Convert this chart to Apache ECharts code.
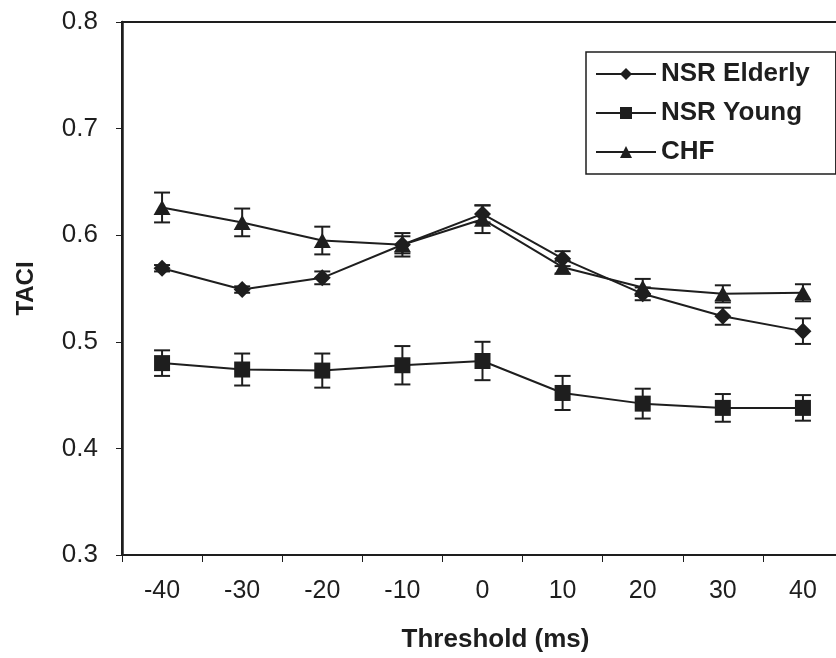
<!DOCTYPE html>
<html>
<head>
<meta charset="utf-8">
<script src="https://cdn.jsdelivr.net/npm/echarts@6/dist/echarts.min.js"></script>
<style>
  html, body { margin: 0; padding: 0; background: #fff; overflow: hidden; width: 836px; height: 658px; }
  /* the plot runs slightly past the right edge of the page */
  #chart { width: 845px; height: 658px; }
</style>
</head>
<body>
<div id="chart"></div>
<script>
// Threshold values (ms) along the x axis
const thresholds = ['-40', '-30', '-20', '-10', '0', '10', '20', '30', '40'];

// Mean TACI per group and the half-length of each error bar
const nsrElderly    = [0.569, 0.549, 0.560, 0.591, 0.620, 0.578, 0.545, 0.524, 0.510];
const nsrElderlyErr = [0.003, 0.003, 0.006, 0.008, 0.008, 0.007, 0.006, 0.008, 0.012];
const nsrYoung      = [0.480, 0.474, 0.473, 0.478, 0.482, 0.452, 0.442, 0.438, 0.438];
const nsrYoungErr   = [0.012, 0.015, 0.016, 0.018, 0.018, 0.016, 0.014, 0.013, 0.012];
const chf           = [0.626, 0.612, 0.595, 0.591, 0.615, 0.570, 0.551, 0.545, 0.546];
const chfErr        = [0.014, 0.013, 0.013, 0.011, 0.013, 0.006, 0.008, 0.008, 0.008];

const yTicks = [0.3, 0.4, 0.5, 0.6, 0.7, 0.8];

const FONT = '"Liberation Sans", Arial, Helvetica, sans-serif';
const INK = '#1e1e1e';

function errRows(vals, errs) {
  return vals.map((v, i) => [i, v - errs[i], v + errs[i]]);
}

function errorBarSeries(name, vals, errs) {
  return {
    type: 'custom',
    name: name + ' err',
    z: 1,
    silent: true,
    renderItem: function (params, api) {
      const lo = api.coord([api.value(0), api.value(1)]);
      const hi = api.coord([api.value(0), api.value(2)]);
      const cap = 8;
      const style = { stroke: INK, lineWidth: 2 };
      return {
        type: 'group',
        children: [
          { type: 'line', shape: { x1: lo[0], y1: lo[1], x2: hi[0], y2: hi[1] }, style: style },
          { type: 'line', shape: { x1: lo[0] - cap, y1: lo[1], x2: lo[0] + cap, y2: lo[1] }, style: style },
          { type: 'line', shape: { x1: hi[0] - cap, y1: hi[1], x2: hi[0] + cap, y2: hi[1] }, style: style }
        ]
      };
    },
    encode: { x: 0, y: [1, 2] },
    data: errRows(vals, errs)
  };
}

function lineSeries(name, vals, symbol, size) {
  return {
    type: 'line',
    name: name,
    data: vals,
    z: 3,
    symbol: symbol,
    symbolSize: size,
    showAllSymbol: true,
    lineStyle: { color: INK, width: 2 },
    itemStyle: { color: INK, borderColor: INK, borderWidth: 0 },
    emphasis: { disabled: true },
    animation: false
  };
}

const chart = echarts.init(document.getElementById('chart'), null, { renderer: 'canvas' });

chart.setOption({
  backgroundColor: '#ffffff',
  animation: false,
  grid: {
    left: 122,
    top: 22,
    width: 721,
    height: 536,
    show: true,
    borderColor: INK,
    borderWidth: 2,
    backgroundColor: 'transparent'
  },
  legend: {
    left: 586,
    top: 52,
    orient: 'vertical',
    padding: [9, 26, 9, 9],
    itemGap: 13,
    itemWidth: 60,
    itemHeight: 15,
    borderColor: INK,
    borderWidth: 1.5,
    backgroundColor: '#fff',
    textStyle: { fontFamily: FONT, fontSize: 26, fontWeight: 'bold', color: INK },
    data: ['NSR Elderly', 'NSR Young', 'CHF']
  },
  xAxis: {
    type: 'category',
    data: thresholds,
    boundaryGap: true,
    name: 'Threshold (ms)',
    nameLocation: 'middle',
    nameGap: 72,
    nameTextStyle: { fontFamily: FONT, fontSize: 26, fontWeight: 'bold', color: INK, padding: [0, 0, 0, 26] },
    axisLine: { lineStyle: { color: INK, width: 2 } },
    axisTick: { show: true, length: 7, lineStyle: { color: INK, width: 1 } },
    axisLabel: { fontFamily: FONT, fontSize: 25, color: INK, margin: 24 },
    splitLine: { show: false }
  },
  yAxis: {
    type: 'value',
    min: 0.3,
    max: 0.8,
    interval: 0.1,
    name: 'TACI',
    nameLocation: 'middle',
    nameGap: 84,
    nameRotate: 90,
    nameTextStyle: { fontFamily: FONT, fontSize: 24, fontWeight: 'bold', color: INK },
    axisLine: { show: true, lineStyle: { color: INK, width: 2.5 } },
    axisTick: { show: true, length: 6, lineStyle: { color: INK, width: 1 } },
    axisLabel: {
      fontFamily: FONT, fontSize: 26, color: INK, margin: 24,
      formatter: v => yTicks.find(t => Math.abs(t - v) < 1e-9).toFixed(1)
    },
    splitLine: { show: false }
  },
  series: [
    errorBarSeries('NSR Elderly', nsrElderly, nsrElderlyErr),
    errorBarSeries('NSR Young', nsrYoung, nsrYoungErr),
    errorBarSeries('CHF', chf, chfErr),
    lineSeries('NSR Elderly', nsrElderly, 'diamond', [17, 17]),
    lineSeries('NSR Young', nsrYoung, 'rect', [16, 16]),
    lineSeries('CHF', chf, 'triangle', [17, 15])
  ]
});
</script>
</body>
</html>
